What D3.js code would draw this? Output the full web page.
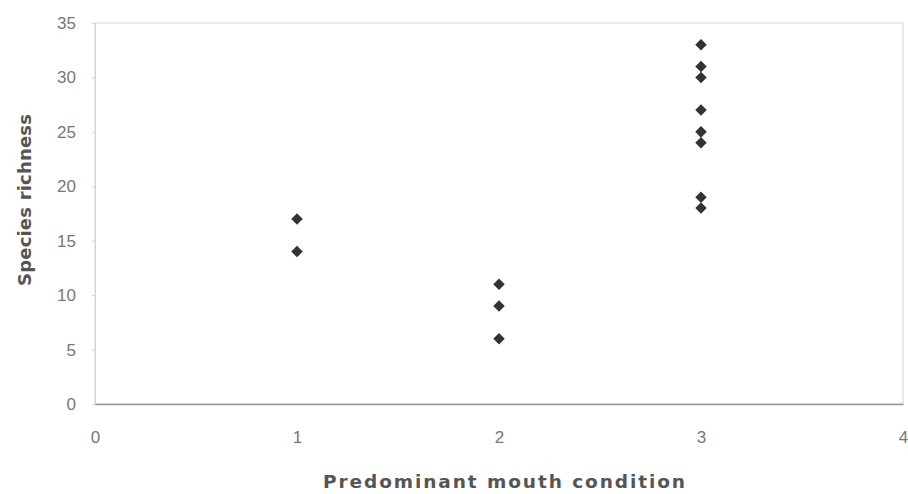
<!DOCTYPE html>
<html>
<head>
<meta charset="utf-8">
<script src="https://cdn.jsdelivr.net/npm/d3@7"></script>
<style>
  body { margin: 0; background: #fff; }
  text { font-family: "Liberation Sans", Arial, sans-serif; fill: #555; }
</style>
</head>
<body>
<svg width="908" height="494"></svg>
<script>
// mouth condition (x) vs species richness (y)
var mouthCondition = [1, 1, 2, 2, 2, 3, 3, 3, 3, 3, 3, 3, 3];
var richness       = [17, 14, 11, 9, 6, 33, 31, 30, 27, 25, 24, 19, 18];
var xTicks = [0, 1, 2, 3, 4];
var yTicks = [0, 5, 10, 15, 20, 25, 30, 35];

var svg = d3.select("svg");
var m = {left: 95, right: 903, top: 23, bottom: 404};

var x = d3.scaleLinear().domain([0, 4]).range([m.left, m.right]);
var y = d3.scaleLinear().domain([0, 35]).range([m.bottom, m.top]);

// plot area border (light)
svg.append("rect")
    .attr("x", m.left).attr("y", m.top)
    .attr("width", m.right - m.left).attr("height", m.bottom - m.top)
    .attr("fill", "none")
    .attr("stroke", "#d4d4d4")
    .attr("stroke-width", 1);

// y axis
var yAxis = svg.append("g")
    .attr("transform", "translate(" + m.left + ",0)")
    .call(d3.axisLeft(y).tickValues(yTicks).tickFormat(d3.format("d")).tickSize(3).tickPadding(16));
yAxis.select(".domain").attr("stroke", "#d4d4d4");
yAxis.selectAll(".tick line").attr("stroke", "#d4d4d4");
yAxis.selectAll(".tick text")
    .style("font-size", "17px")
    .style("fill", "#777");

// x axis
var xAxis = svg.append("g")
    .attr("transform", "translate(0," + m.bottom + ")")
    .call(d3.axisBottom(x).tickValues(xTicks).tickFormat(d3.format("d")).tickSize(0).tickPadding(27));
xAxis.select(".domain").attr("stroke", "#999").attr("stroke-width", 1.5);
xAxis.selectAll(".tick text")
    .style("font-size", "17px")
    .style("fill", "#777");

// axis titles
svg.append("text")
    .attr("x", 504).attr("y", 488)
    .attr("text-anchor", "middle")
    .attr("textLength", 362)
    .style("font-family", "'DejaVu Sans', sans-serif")
    .style("font-size", "18.5px")
    .style("font-weight", "bold")
    .text("Predominant mouth condition");

svg.append("text")
    .attr("transform", "translate(31,200) rotate(-90)")
    .attr("text-anchor", "middle")
    .attr("textLength", 172)
    .style("font-family", "'DejaVu Sans', sans-serif")
    .style("font-size", "18px")
    .style("font-weight", "bold")
    .text("Species richness");

// points
var diamond = d3.symbol().type(d3.symbolDiamond2).size(85);
svg.selectAll("path.pt")
    .data(d3.range(richness.length))
    .enter()
    .append("path")
    .attr("class", "pt")
    .attr("d", diamond)
    .attr("transform", function(i) {
      return "translate(" + x(mouthCondition[i]) + "," + y(richness[i]) + ")";
    })
    .attr("fill", "#333");
</script>
</body>
</html>
